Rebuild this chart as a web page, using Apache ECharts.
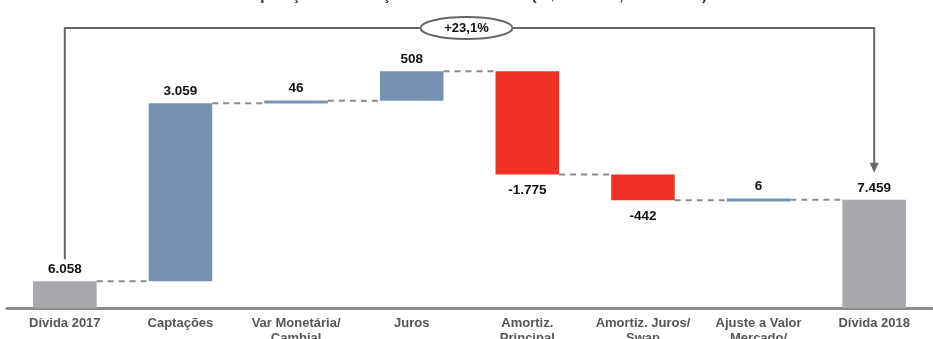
<!DOCTYPE html>
<html>
<head>
<meta charset="utf-8">
<script src="https://cdn.jsdelivr.net/npm/echarts@6/dist/echarts.min.js"></script>
<style>
  html, body { margin: 0; padding: 0; background: #fff; overflow: hidden; }
  #chart { width: 933px; height: 339px; }
</style>
</head>
<body>
<div id="chart"></div>
<script>
// Bridge of consolidated debt, R$ millions
const titleText = 'Composição da Variação da Dívida Bruta (R$ milhões, 2017-2018)';
const categories = [
  'Dívida 2017', 'Captações', 'Var Monetária/\nCambial', 'Juros',
  'Amortiz.\nPrincipal', 'Amortiz. Juros/\nSwap', 'Ajuste a Valor\nMercado/', 'Dívida 2018'
];
const values = [6058, 3059, 46, 508, -1775, -442, 6, 7459];
const isTotal = [true, false, false, false, false, false, false, true];
const growthText = '+23,1%';

const AXIS_MIN = 5600;
const AXIS_MAX = 10000;
const COLOR_TOTAL = '#a7a8ab';
const COLOR_UP = '#7791b1';
const COLOR_DOWN = '#ee3124';

function fmt(v) {
  const s = Math.abs(v).toString().replace(/\B(?=(\d{3})+(?!\d))/g, '.');
  return (v < 0 ? '-' : '') + s;
}

// Build floating segments: [index, low, high, value, kind]
const barData = [];
const levels = [];
let running = 0;
values.forEach((v, i) => {
  if (isTotal[i]) {
    barData.push([i, 0, v, v, 0]);
    running = v;
  } else {
    const start = running;
    running = start + v;
    barData.push([i, Math.min(start, running), Math.max(start, running), v, v >= 0 ? 1 : 2]);
  }
  levels.push(isTotal[i] ? values[i] : running);
});
// connector level between bar i and i+1
const connectorData = [];
for (let i = 0; i < values.length - 1; i++) connectorData.push([i, levels[i]]);

const chart = echarts.init(document.getElementById('chart'));

const option = {
  animation: false,
  title: {
    text: titleText,
    left: 'center',
    top: -17,
    textStyle: { fontFamily: 'Liberation Sans', fontSize: 15.5, fontWeight: 'bold', color: '#333' }
  },
  grid: { left: 7, right: 1, top: 52, bottom: 31, containLabel: false, outerBoundsMode: 'none' },
  xAxis: {
    type: 'category',
    data: categories,
    axisLine: { lineStyle: { color: '#8c8c8c', width: 3 } },
    axisTick: { show: false },
    axisLabel: {
      interval: 0,
      margin: 8,
      fontFamily: 'Liberation Sans',
      fontSize: 13,
      fontWeight: 'bold',
      color: '#555',
      lineHeight: 15
    },
    splitLine: { show: false }
  },
  yAxis: {
    type: 'value',
    min: AXIS_MIN,
    max: AXIS_MAX,
    show: false,
    splitLine: { show: false }
  },
  series: [
    {
      type: 'custom',
      name: 'bars',
      data: barData,
      encode: { x: 0, y: [1, 2] },
      z: 3,
      renderItem(params, api) {
        const i = api.value(0), lo = api.value(1), hi = api.value(2);
        const v = api.value(3), kind = api.value(4);
        const cs = params.coordSys;
        const pHi = api.coord([i, hi]);
        const pLo = api.coord([i, lo]);
        const w = api.size([1, 0])[0] * 0.55;
        let top = pHi[1];
        let bot = Math.min(pLo[1], cs.y + cs.height);
        if (bot - top < 3) { const m = (top + bot) / 2; top = m - 1.5; bot = m + 1.5; }
        const color = kind === 0 ? COLOR_TOTAL : (kind === 1 ? COLOR_UP : COLOR_DOWN);
        const below = kind === 2;
        return {
          type: 'group',
          children: [
            {
              type: 'rect',
              shape: { x: pHi[0] - w / 2, y: top, width: w, height: bot - top },
              style: { fill: color }
            },
            {
              type: 'text',
              x: pHi[0],
              y: below ? bot + 9 : top - 5,
              style: {
                text: fmt(v),
                fill: '#111',
                font: 'bold 13.5px "Liberation Sans"',
                align: 'center',
                verticalAlign: below ? 'top' : 'bottom'
              }
            }
          ]
        };
      }
    },
    {
      type: 'custom',
      name: 'connectors',
      data: connectorData,
      encode: { x: 0, y: 1 },
      z: 2,
      renderItem(params, api) {
        const i = api.value(0), lvl = api.value(1);
        const w = api.size([1, 0])[0] * 0.55;
        const a = api.coord([i, lvl]);
        const b = api.coord([i + 1, lvl]);
        return {
          type: 'line',
          shape: { x1: a[0] + w / 2, y1: a[1], x2: b[0] - w / 2, y2: b[1] },
          style: { stroke: '#8a8a8a', lineWidth: 2, lineDash: [6, 5] }
        };
      }
    }
  ]
};

chart.setOption(option);

// Growth bracket from the first to the last total
const first = chart.convertToPixel({ gridIndex: 0 }, [0, values[0]]);
const last = chart.convertToPixel({ gridIndex: 0 }, [values.length - 1, values[values.length - 1]]);
const topY = 28;
const leftBottom = first[1] - 22;
const tipY = last[1] - 27;
const midX = (first[0] + last[0]) / 2 - 3;
const stroke = '#666';

chart.setOption({
  graphic: [
    {
      type: 'polyline',
      z: 10,
      shape: { points: [[first[0], leftBottom], [first[0], topY], [last[0], topY], [last[0], tipY - 9]] },
      style: { stroke: stroke, lineWidth: 2, fill: null }
    },
    {
      type: 'polygon',
      z: 10,
      shape: { points: [[last[0] - 4.5, tipY - 10], [last[0] + 4.5, tipY - 10], [last[0], tipY]] },
      style: { fill: stroke }
    },
    {
      type: 'ellipse',
      z: 11,
      shape: { cx: midX, cy: topY, rx: 46, ry: 11 },
      style: { fill: '#fff', stroke: stroke, lineWidth: 2 }
    },
    {
      type: 'text',
      z: 12,
      x: midX,
      y: topY,
      style: {
        text: growthText,
        fill: '#111',
        font: 'bold 13px "Liberation Sans"',
        align: 'center',
        verticalAlign: 'middle'
      }
    }
  ]
});
</script>
</body>
</html>
